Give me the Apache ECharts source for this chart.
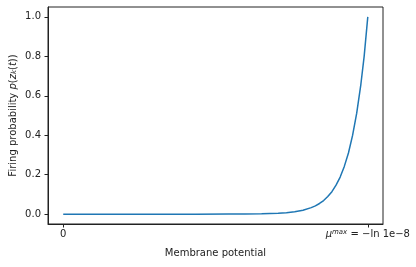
<!DOCTYPE html>
<html><head><meta charset="utf-8">
<script src="https://cdn.jsdelivr.net/npm/echarts@6/dist/echarts.min.js"></script>
<style>html,body{margin:0;padding:0;background:#fff}#c{width:416px;height:267px}</style>
</head><body><div id="c"></div>
<script>
const muMax = 18.42;
const xValues = [0, 2, 4, 6, 8, 10, 11, 12, 13, 13.5, 14, 14.5, 15, 15.25, 15.5, 15.75, 16, 16.25, 16.5, 16.75, 17, 17.25, 17.5, 17.75, 18, 18.2, 18.42];
const yValues = [0, 0, 0, 0, 0, 0.0002, 0.0006, 0.0016, 0.0044, 0.0073, 0.012, 0.020, 0.033, 0.042, 0.054, 0.069, 0.089, 0.114, 0.147, 0.188, 0.242, 0.310, 0.399, 0.512, 0.657, 0.80, 1.0];
const yTicks = [0, 0.2, 0.4, 0.6, 0.8, 1.0];
const xTicks = [0, muMax];

const chart = echarts.init(document.getElementById('c'), null, {renderer: 'canvas'});
const font = 'DejaVu Sans';
chart.setOption({
  animation: false,
  grid: {left: 48, right: 33, top: 7, bottom: 43, show: true, borderColor: '#222', borderWidth: 1, containLabel: false, outerBoundsMode: 'none'},
  xAxis: {
    type: 'value', min: -0.92, max: 19.34,
    axisLine: {show: true, onZero: false, lineStyle: {color: '#222', width: 1}}, splitLine: {show: false},
    axisTick: {show: true, inside: false, length: 3.5, lineStyle: {color: '#222'}, customValues: xTicks},
    axisLabel: {
      customValues: xTicks, margin: 5, color: '#222', fontFamily: font, fontSize: 10,
      formatter: v => v === 0 ? '0' : '{m|μ}{s|max}{n| = −ln 1e−8}',
      rich: {
        m: {fontFamily: font, fontSize: 10, fontStyle: 'italic', color: '#222'},
        s: {fontFamily: font, fontSize: 7, fontStyle: 'italic', color: '#222', verticalAlign: 'top', padding: [0,0,4,0]},
        n: {fontFamily: font, fontSize: 10, color: '#222'}
      }
    },
    name: 'Membrane potential', nameLocation: 'middle', nameGap: 24, nameMoveOverlap: false,
    nameTextStyle: {color: '#222', fontFamily: font, fontSize: 10}
  },
  yAxis: {
    type: 'value', min: -0.05, max: 1.05,
    axisLine: {show: true, onZero: false, lineStyle: {color: '#222', width: 1}}, splitLine: {show: false},
    axisTick: {show: true, inside: false, length: 3.5, lineStyle: {color: '#222'}, customValues: yTicks},
    axisLabel: {customValues: yTicks, margin: 7, color: '#222', fontFamily: font, fontSize: 10, formatter: v => v.toFixed(1)},
    name: '{a|Firing probability }{b|p}{a|(}{b|z}{c|k}{a|(}{b|t}{a|))}', nameLocation: 'middle', nameGap: 30, nameRotate: 90, nameMoveOverlap: false,
    nameTextStyle: {
      color: '#222', fontFamily: font, fontSize: 10,
      rich: {
        a: {fontFamily: font, fontSize: 10, color: '#222'},
        b: {fontFamily: font, fontSize: 10, fontStyle: 'italic', color: '#222'},
        c: {fontFamily: font, fontSize: 7, fontStyle: 'italic', color: '#222', verticalAlign: 'bottom', padding: [3,0,0,0]}
      }
    }
  },
  series: [{
    type: 'line', showSymbol: false, smooth: false,
    data: xValues.map((x, i) => [x, yValues[i]]),
    lineStyle: {color: '#1f77b4', width: 1.5}
  }]
});
</script></body></html>
